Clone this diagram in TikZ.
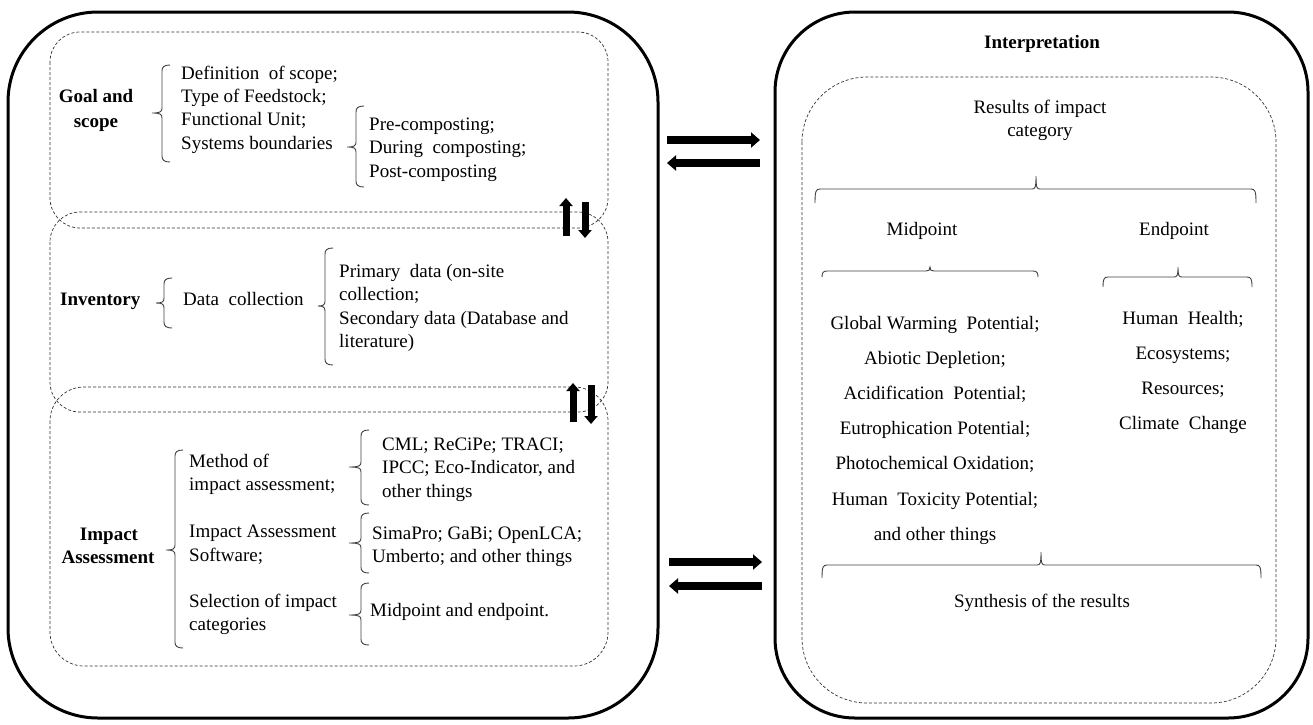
\documentclass[tikz,border=0pt]{standalone}
\usepackage{fontspec}
\setmainfont{Liberation Serif}
\usetikzlibrary{arrows.meta}
\tikzset{
  outerbox/.style={draw=black, line width=3pt, rounded corners=#1},
  dashbox/.style={draw=black!80, line width=0.7pt, dash pattern=on 3pt off 2pt, rounded corners=#1},
  bracestyle/.style={draw=black!75, line width=0.9pt},
  bigarrow/.style={line width=8pt, -{Triangle[length=9pt,width=15pt]}},
  vertarrow/.style={line width=7pt, -{Triangle[length=8pt,width=13pt]}},
  txt/.style={inner sep=0pt, font=\fontsize{19}{23}\selectfont, anchor=mid west},
  ctxt/.style={txt, anchor=mid},
  btxt/.style={ctxt, font=\fontsize{19}{23}\selectfont\bfseries},
}
% vertical left brace: x of stem, top, mid, bottom, tip x
\newcommand{\VBr}[5]{\draw[bracestyle] (#1+8,#2) .. controls (#1+2,#2) and (#1,#2+2) .. (#1,#2+6) -- (#1,#3-5) .. controls (#1,#3-1) and (#1-2,#3) .. (#5,#3) .. controls (#1-2,#3) and (#1,#3+1) .. (#1,#3+5) -- (#1,#4-6) .. controls (#1,#4-2) and (#1+2,#4) .. (#1+8,#4);}
% horizontal brace: left, right, tip x, y, end drop, tip rise
\newcommand{\HBr}[6]{\draw[bracestyle] (#1,#4+#5) .. controls (#1,#4+2) and (#1+1,#4) .. (#1+5,#4) -- (#3-4,#4) .. controls (#3-1,#4) and (#3,#4-1) .. (#3,#4-#6) .. controls (#3,#4-1) and (#3+1,#4) .. (#3+4,#4) -- (#2-5,#4) .. controls (#2-1,#4) and (#2,#4+2) .. (#2,#4+#5);}
\begin{document}
\begin{tikzpicture}[x=1pt,y=-1pt]
\useasboundingbox (0,0) rectangle (1313,724);
% outer boxes
\draw[outerbox=90] (8,12) rectangle (658,718);
\draw[outerbox=80] (775,12) rectangle (1308,718);
% dashed boxes
\draw[dashbox=30] (50,32) rectangle (608,228);
\draw[dashbox=30] (50,212) rectangle (608,412);
\draw[dashbox=34] (50,387) rectangle (608,666);
\draw[dashbox=65] (802,77) rectangle (1276,703);

% Goal and scope
\node[btxt] (gs1) at (96,100) {Goal and};
\node[btxt] (gs2) at (96,125) {scope};
\VBr{162}{65}{113}{162}{152}
\node[txt] (g1) at (181,77) {Definition\ \ of scope;};
\node[txt] (g2) at (181,100) {Type of Feedstock;};
\node[txt] (g3) at (181,123) {Functional Unit;};
\node[txt] (g4) at (181,147) {Systems boundaries};
\VBr{356}{106}{147}{187}{347}
\node[txt] (p1) at (369,128) {Pre-composting;};
\node[txt] (p2) at (369,151) {During\ \ composting;};
\node[txt] (p3) at (369,175) {Post-composting};

% Inventory
\node[txt, font=\fontsize{19}{23}\selectfont\bfseries] (inv) at (60,303) {Inventory};
\VBr{164}{278}{303}{328}{156}
\node[txt] (dc) at (183,303) {Data\ \ collection};
\VBr{325}{248}{306}{365}{318}
\node[txt] (d1) at (339,275) {Primary\ \ data (on-site};
\node[txt] (d2) at (339,298) {collection;};
\node[txt] (d3) at (339,322) {Secondary data (Database and};
\node[txt] (d4) at (339,345) {literature)};

% Impact assessment
\node[btxt] (ia1) at (109,538) {Impact};
\node[btxt] (ia2) at (108,561) {Assessment};
\VBr{175}{450}{550}{648}{166}
\node[txt] (m1) at (189,465) {Method of};
\node[txt] (m2) at (189,488) {impact assessment;};
\node[txt] (s1) at (189,535) {Impact Assessment};
\node[txt] (s2) at (189,559) {Software;};
\node[txt] (c1) at (189,605) {Selection of impact};
\node[txt] (c2) at (189,628) {categories};
\VBr{361}{430}{467}{505}{349}
\node[txt] (ma1) at (382,448) {CML; ReCiPe; TRACI;};
\node[txt] (ma2) at (382,471) {IPCC; Eco-Indicator, and};
\node[txt] (ma3) at (382,495) {other things};
\VBr{361}{513}{543}{573}{349}
\node[txt] (sw1) at (372,537) {SimaPro; GaBi; OpenLCA;};
\node[txt] (sw2) at (372,560) {Umberto; and other things};
\VBr{361}{583}{615}{645}{349}
\node[txt] (me) at (370,614) {Midpoint and endpoint.};

% vertical arrows
\coordinate (u1s) at (566,236); \coordinate (u1e) at (566,198);
\coordinate (d1s) at (585,202); \coordinate (d1e) at (585,238);
\coordinate (u2s) at (573,422); \coordinate (u2e) at (573,383);
\coordinate (d2s) at (591,385); \coordinate (d2e) at (591,424);
\draw[vertarrow] (u1s) -- (u1e);
\draw[vertarrow] (d1s) -- (d1e);
\draw[vertarrow] (u2s) -- (u2e);
\draw[vertarrow] (d2s) -- (d2e);

% horizontal arrows
\coordinate (ra1) at (667,140); \coordinate (rb1) at (760,140);
\coordinate (la1) at (760,163); \coordinate (lb1) at (667,163);
\coordinate (ra2) at (669,562); \coordinate (rb2) at (762,562);
\coordinate (la2) at (762,586); \coordinate (lb2) at (669,586);
\draw[bigarrow] (ra1) -- (rb1);
\draw[bigarrow] (la1) -- (lb1);
\draw[bigarrow] (ra2) -- (rb2);
\draw[bigarrow] (la2) -- (lb2);

% Interpretation
\node[btxt] (int) at (1042,46) {Interpretation};
\node[ctxt] (r1) at (1040,111) {Results of impact};
\node[ctxt] (r2) at (1040,134) {category};
\HBr{815}{1256}{1036}{189}{14}{13}
\node[ctxt] (mid) at (922,233) {Midpoint};
\node[ctxt] (end) at (1174,233) {Endpoint};
\HBr{822}{1038}{930}{271}{6}{4}
\HBr{1103}{1252}{1178}{277}{10}{10}
\node[ctxt] (mp1) at (935,327) {Global Warming\ \ Potential;};
\node[ctxt] (mp2) at (935,362) {Abiotic Depletion;};
\node[ctxt] (mp3) at (935,397) {Acidification\ \ Potential;};
\node[ctxt] (mp4) at (935,432) {Eutrophication Potential;};
\node[ctxt] (mp5) at (935,467) {Photochemical Oxidation;};
\node[ctxt] (mp6) at (935,503) {Human\ \ Toxicity Potential;};
\node[ctxt] (mp7) at (935,538) {and other things};
\node[ctxt] (ep1) at (1183,322) {Human\ \ Health;};
\node[ctxt] (ep2) at (1183,357) {Ecosystems;};
\node[ctxt] (ep3) at (1183,392) {Resources;};
\node[ctxt] (ep4) at (1183,427) {Climate\ \ Change};
\HBr{822}{1261}{1041}{565}{13}{13}
\node[ctxt] (syn) at (1042,605) {Synthesis of the results};
\end{tikzpicture}
\end{document}
